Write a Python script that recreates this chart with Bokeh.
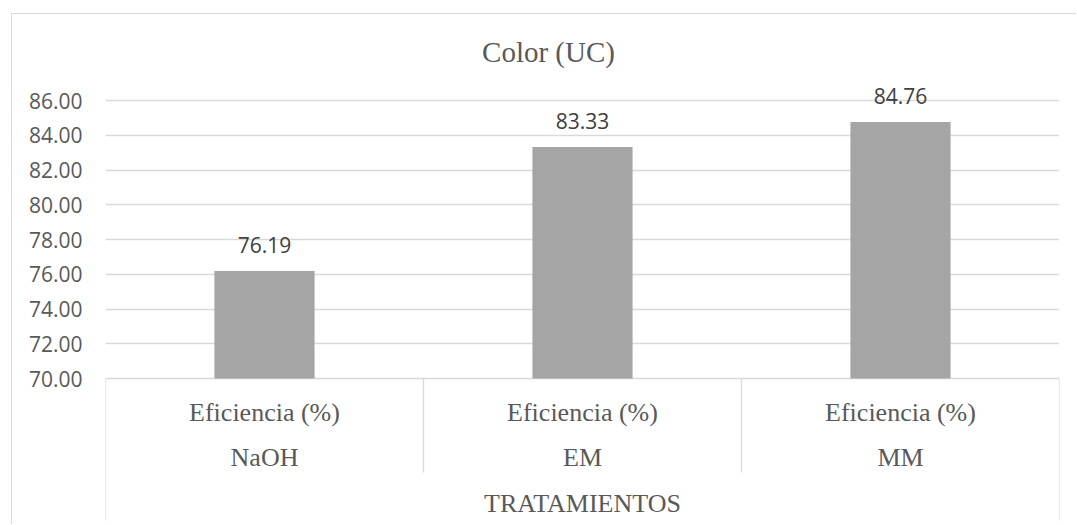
from bokeh.plotting import figure
from bokeh.models import FactorRange, Range1d, FixedTicker, PrintfTickFormatter, ColumnDataSource
from bokeh.core.properties import value
from bokeh.embed import file_html
from bokeh.resources import INLINE

# ---- data ----
title_text = "Color (UC)"
categories = ["NaOH", "EM", "MM"]
efficiency = [76.19, 83.33, 84.76]
series_label = "Eficiencia (%)"
axis_title = "TRATAMIENTOS"
y_ticks = [70, 72, 74, 76, 78, 80, 82, 84, 86]

# ---- layout ----
Y_MIN_AXIS, Y_MAX_AXIS = 70, 86
CANVAS_TOP_ABS = 14
AXIS_TOP_ABS, AXIS_BOTTOM_ABS, PAGE_H = 100, 378, 525
PX = (AXIS_BOTTOM_ABS - AXIS_TOP_ABS) / (Y_MAX_AXIS - Y_MIN_AXIS)
y_low = Y_MIN_AXIS - (PAGE_H - AXIS_BOTTOM_ABS) / PX
y_high = Y_MAX_AXIS + (AXIS_TOP_ABS - CANVAS_TOP_ABS) / PX

GRID = "#D9D9D9"
BAR = "#A5A5A5"
SERIF = value("Liberation Serif")
SANS = "Open Sans"

p = figure(width=1065, height=PAGE_H - CANVAS_TOP_ABS, output_backend="svg", toolbar_location=None,
           x_range=FactorRange(factors=categories, range_padding=0),
           y_range=Range1d(y_low, y_high),
           x_axis_location=None,
           min_border_left=93, min_border_right=18, min_border_top=0, min_border_bottom=0)
p.margin = (13, 0, 0, 11)
p.styles = {"border-top": "1px solid #D9D9D9", "border-left": "1px solid #D9D9D9"}
p.outline_line_color = None
p.background_fill_color = "white"
p.border_fill_color = "white"

ax = p.yaxis[0]
ax.ticker = FixedTicker(ticks=y_ticks)
ax.formatter = PrintfTickFormatter(format="%.2f")
ax.axis_line_color = None
ax.major_tick_line_color = None
ax.major_tick_out = 0
ax.major_tick_in = 0
ax.minor_tick_line_color = None
ax.major_label_standoff = 23
ax.major_label_text_font = SANS
ax.major_label_text_font_size = "21px"
ax.major_label_text_color = "#595959"

p.xgrid.visible = False
p.ygrid.grid_line_color = GRID
p.ygrid.grid_line_width = 1.3

src = ColumnDataSource(dict(cat=categories, val=efficiency,
                            lbl=[f"{v:.2f}" for v in efficiency],
                            series=[series_label] * len(categories)))

p.vbar(x="cat", top="val", bottom=Y_MIN_AXIS, width=0.315, source=src,
       fill_color=BAR, line_color=None)

p.text(x="cat", y="val", text="lbl", source=src, text_align="center",
       text_baseline="alphabetic", y_offset=-26, text_font=value(SANS),
       text_font_size="21px", text_color="#404040")

n = len(categories)

# chart title
p.text(x=[n / 2], y=[Y_MAX_AXIS], text=[title_text], text_align="center",
       text_baseline="alphabetic", x_offset=-34, y_offset=-49, text_font=SERIF,
       text_font_size="29px", text_color="#595959")

# category table below the axis
bounds = list(range(n + 1))
outer_end = Y_MIN_AXIS - (520 - AXIS_BOTTOM_ABS) / PX
inner_end = Y_MIN_AXIS - (472 - AXIS_BOTTOM_ABS) / PX
p.segment(x0=bounds, x1=bounds, y0=[Y_MIN_AXIS] * (n + 1),
          y1=[outer_end if b in (0, n) else inner_end for b in bounds],
          line_color=GRID, line_width=1.3)

p.text(x="cat", y=Y_MIN_AXIS, text="series", source=src, text_align="center",
       text_baseline="alphabetic", y_offset=34, text_font=SERIF,
       text_font_size="26px", text_color="#595959")
p.text(x="cat", y=Y_MIN_AXIS, text="cat", source=src, text_align="center",
       text_baseline="alphabetic", y_offset=79, text_font=SERIF,
       text_font_size="26px", text_color="#595959")
p.text(x=[n / 2], y=[Y_MIN_AXIS], text=[axis_title], text_align="center",
       text_baseline="alphabetic", y_offset=125, text_font=SERIF,
       text_font_size="26px", text_color="#595959")

open("out.html", "w").write(file_html(p, INLINE))
